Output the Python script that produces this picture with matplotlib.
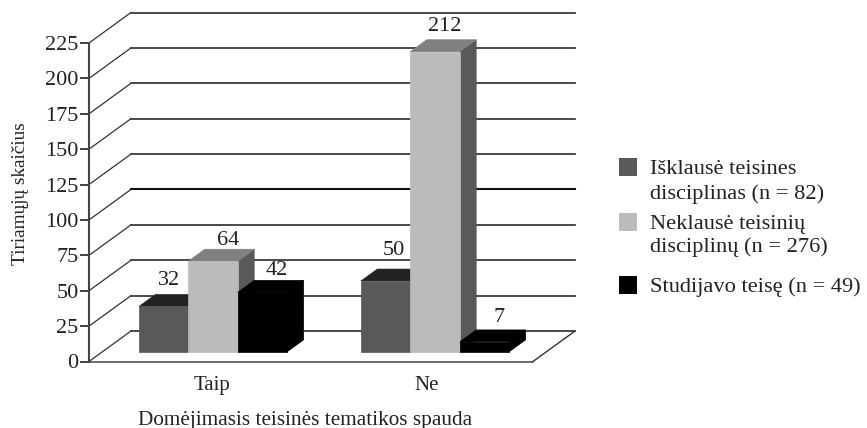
import matplotlib
matplotlib.use('Agg')
import matplotlib.pyplot as plt
from matplotlib.patches import Polygon, Rectangle

WIDTH, HEIGHT = 867, 428

GROUPS = ['Taip', 'Ne']
SERIES_NAMES = ['Išklausė teisines\ndisciplinas (n = 82)',
                'Neklausė teisinių\ndisciplinų (n = 276)',
                'Studijavo teisę (n = 49)']
SERIES_VALUES = [[32, 50], [64, 212], [42, 7]]
Y_TICKS = [0, 25, 50, 75, 100, 125, 150, 175, 200, 225]

FRONT = ['#595959', '#bbbbbb', '#000000']
TOP = ['#222222', '#808080', '#000000']
SIDE = ['#3a3a3a', '#595959', '#000000']
TEXT = '#222222'

# nudges for the value labels, (right, up) in pixels from the front top edge centre
LABEL_NUDGE = [[(5, 26), (8, 30)], [(15, 21), (10, 25)], [(14, 22), (15, 24)]]

# oblique projection: depth 1 is the back wall of the box
DEPTH_X = 42 / 222
DEPTH_Y = 30.5 / 1.416
BAR_W = 49.4 / 222
GROUP_START = [50 / 222, 272 / 222]
BAR_D0, BAR_D1 = 0.32, 0.71
BAR_SHIFT = BAR_D0 * DEPTH_X

plt.rcParams['font.family'] = ['Liberation Serif', 'DejaVu Serif']


def proj(x, v, d):
    return x + d * DEPTH_X, v + d * DEPTH_Y


def draw_bar(ax, x0, value, i):
    x1 = x0 + BAR_W
    front = [proj(x0, 0, BAR_D0), proj(x1, 0, BAR_D0), proj(x1, value, BAR_D0), proj(x0, value, BAR_D0)]
    top = [proj(x0, value, BAR_D0), proj(x1, value, BAR_D0), proj(x1, value, BAR_D1), proj(x0, value, BAR_D1)]
    side = [proj(x1, 0, BAR_D0), proj(x1, 0, BAR_D1), proj(x1, value, BAR_D1), proj(x1, value, BAR_D0)]
    for pts, colour in ((side, SIDE[i]), (top, TOP[i]), (front, FRONT[i])):
        ax.add_patch(Polygon(pts, closed=True, facecolor=colour, edgecolor=colour, lw=0.5,
                             clip_on=False, zorder=5 + i))


def main():
    fig = plt.figure(figsize=(WIDTH / 100, HEIGHT / 100), dpi=100)
    # plot box in pixels: x 89-533, y 43-361.5
    ax = fig.add_axes([89 / WIDTH, 1 - 361.5 / HEIGHT, 444 / WIDTH, 318.5 / HEIGHT])
    ax.set_xlim(0, 2)
    ax.set_ylim(0, 225)
    ax.patch.set_alpha(0)

    # wall lines, the slanted part is thinner than the back one
    for v in Y_TICKS:
        lw = 1.5 if v == 100 else 1.25
        col = '#111111' if v == 100 else '#333333'
        xs, ys = zip(proj(0, v, 0), proj(0, v, 1))
        ax.plot(xs, ys, color='#333333', lw=0.9, clip_on=False, zorder=2)
        xs, ys = zip(proj(0, v, 1), proj(2, v, 1))
        ax.plot(xs, ys, color=col, lw=lw, clip_on=False, zorder=2)

    # floor edge on the right
    xs, ys = zip(proj(2, 0, 0), proj(2, 0, 1))
    ax.plot(xs, ys, color='#333333', lw=1.0, clip_on=False, zorder=2)

    for g in range(len(GROUPS)):
        for i, values in enumerate(SERIES_VALUES):
            x0 = GROUP_START[g] - BAR_SHIFT + i * BAR_W
            draw_bar(ax, x0, values[g], i)
            cx, cy = proj(x0 + BAR_W / 2, values[g], BAR_D0)
            ax.annotate(str(values[g]), (cx, cy), xytext=LABEL_NUDGE[i][g], textcoords='offset pixels',
                        ha='center', va='center', fontsize=16, color=TEXT, zorder=20,
                        annotation_clip=False)

    ax.spines['top'].set_visible(False)
    ax.spines['right'].set_visible(False)
    ax.spines['left'].set_linewidth(1.5)
    ax.spines['left'].set_color('#444444')
    ax.spines['bottom'].set_linewidth(1.1)
    ax.spines['bottom'].set_color('#444444')

    ax.set_yticks(Y_TICKS)
    ax.tick_params(axis='y', length=6.5, width=1.3, color='#333333', labelsize=16,
                   labelcolor=TEXT, pad=1)
    ax.set_xticks([0.554, 1.52], GROUPS)
    ax.tick_params(axis='x', length=0, labelsize=15, labelcolor=TEXT, pad=10.5)

    fig.text(21 / WIDTH, 1 - 193.5 / HEIGHT, 'Tiriamųjų skaičius', rotation=90, ha='center', va='center',
             fontsize=13.9, color=TEXT)
    fig.text(305 / WIDTH, 1 - 420 / HEIGHT, 'Domėjimasis teisinės tematikos spauda', ha='center', va='center',
             fontsize=15.3, color=TEXT)

    # legend, spacing in the original is uneven so it is placed by hand
    swatch_y = [167, 222, 285]
    text_y = [182, 236, 287]
    spacing = [1.38, 1.28, 1.2]
    for i, name in enumerate(SERIES_NAMES):
        fig.add_artist(Rectangle((619 / WIDTH, 1 - (swatch_y[i] + 9) / HEIGHT), 18 / WIDTH, 18 / HEIGHT,
                                 transform=fig.transFigure, facecolor=FRONT[i], edgecolor='none'))
        fig.text(650 / WIDTH, 1 - text_y[i] / HEIGHT, name, ha='left', va='center', fontsize=16.15,
                 color=TEXT, linespacing=spacing[i])

    fig.savefig('out.png', dpi=100, facecolor='white')


if __name__ == '__main__':
    main()
